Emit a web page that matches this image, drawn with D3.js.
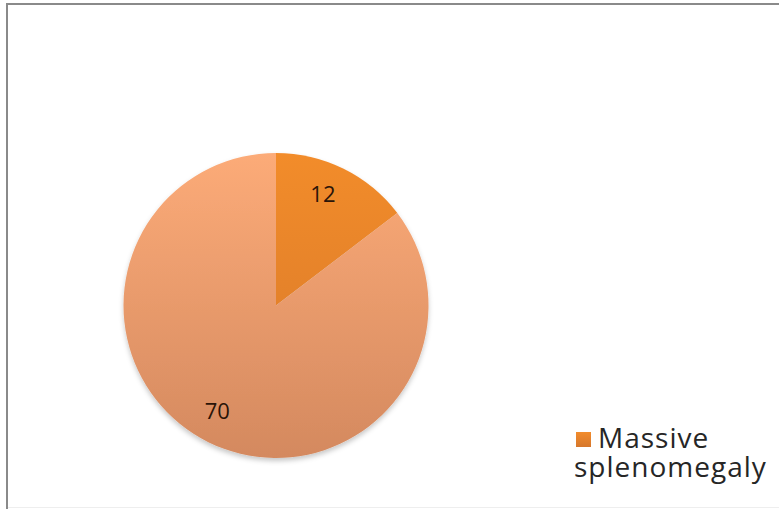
<!DOCTYPE html>
<html>
<head>
<meta charset="utf-8">
<script src="https://cdn.jsdelivr.net/npm/d3@7"></script>
<style>
  body { margin: 0; background: #fff; }
  svg { display: block; }
</style>
</head>
<body>
<svg id="chart" width="779" height="509"></svg>
<script>
// values
const categories = ["Massive splenomegaly", "Other"];
const values = [12, 70];
const topColors = ["#f28c2c", "#fcab78"];
const bottomColors = ["#d6772c", "#d4895f"];
// only the first legend entry is visible in the cropped chart
const legendShown = ["Massive splenomegaly"];

const svg = d3.select("#chart");
const width = 779, height = 509;

const cx = 276, cy = 305.5, radius = 152.5;

const defs = svg.append("defs");

const shadow = defs.append("filter").attr("id", "shadow")
    .attr("x", "-10%").attr("y", "-10%").attr("width", "120%").attr("height", "125%");
shadow.append("feDropShadow")
    .attr("dx", 0).attr("dy", 3).attr("stdDeviation", 2.5)
    .attr("flood-color", "#000").attr("flood-opacity", 0.22);

categories.forEach((c, i) => {
    // gradient across the pie, in the pie group's local coords
    const g = defs.append("linearGradient")
        .attr("id", "grad" + i)
        .attr("gradientUnits", "userSpaceOnUse")
        .attr("x1", 0).attr("y1", -radius)
        .attr("x2", 0).attr("y2", radius);
    g.append("stop").attr("offset", "0%").attr("stop-color", topColors[i]);
    g.append("stop").attr("offset", "100%").attr("stop-color", bottomColors[i]);

    const lg = defs.append("linearGradient").attr("id", "lg" + i)
        .attr("x1", 0).attr("y1", 0).attr("x2", 0).attr("y2", 1);
    lg.append("stop").attr("offset", "0%").attr("stop-color", topColors[i]);
    lg.append("stop").attr("offset", "100%").attr("stop-color", bottomColors[i]);
});

// frame of the chart area (cut off at right and bottom)
svg.append("line").attr("x1", 6).attr("x2", width).attr("y1", 4).attr("y2", 4)
    .attr("stroke", "#8a8a8a").attr("stroke-width", 2);
svg.append("line").attr("x1", 7).attr("x2", 7).attr("y1", 3).attr("y2", height)
    .attr("stroke", "#8a8a8a").attr("stroke-width", 2);
svg.append("line").attr("x1", 8).attr("x2", width).attr("y1", 507.5).attr("y2", 507.5)
    .attr("stroke", "#eeeeee").attr("stroke-width", 1);

const pie = d3.pie().sort(null).value(d => d);
const arcs = pie(values);

const arc = d3.arc().innerRadius(0).outerRadius(radius);
const labelArc = d3.arc().innerRadius(radius * 0.79).outerRadius(radius * 0.79);

const pieG = svg.append("g").attr("transform", `translate(${cx},${cy})`);

pieG.append("g")
    .attr("filter", "url(#shadow)")
    .selectAll("path")
    .data(arcs)
    .join("path")
    .attr("d", arc)
    .attr("fill", (d, i) => `url(#grad${i})`);

pieG.selectAll("text.lbl")
    .data(arcs)
    .join("text")
    .attr("class", "lbl")
    .attr("transform", (d, i) => {
        const [x, y] = labelArc.centroid(d);
        const a = i === 0 ? -0.06 : 0.05;
        const r = Math.hypot(x, y), t = Math.atan2(y, x) + a;
        return `translate(${r * Math.cos(t)},${r * Math.sin(t)})`;
    })
    .attr("text-anchor", "middle")
    .attr("dy", "0.36em")
    .attr("font-family", "Open Sans, sans-serif")
    .attr("font-size", 22)
    .attr("fill", "#2a1408")
    .text(d => d.data);

// legend
const legend = svg.append("g").attr("transform", "translate(576,432)");
const item = legend.selectAll("g")
    .data(legendShown)
    .join("g")
    .attr("transform", (d, i) => `translate(0,${i * 62})`);

item.append("rect")
    .attr("width", 15).attr("height", 15)
    .attr("fill", (d) => `url(#lg${categories.indexOf(d)})`);

item.append("text")
    .attr("font-family", "Open Sans, sans-serif")
    .attr("font-size", 28)
    .attr("letter-spacing", 1)
    .attr("fill", "#262626")
    .each(function(d) {
        const words = d.split(" ");
        const t = d3.select(this);
        words.forEach((w, j) => {
            t.append("tspan")
                .attr("x", j === 0 ? 22 : -2)
                .attr("y", 16 + j * 29)
                .text(w);
        });
    });
</script>
</body>
</html>
